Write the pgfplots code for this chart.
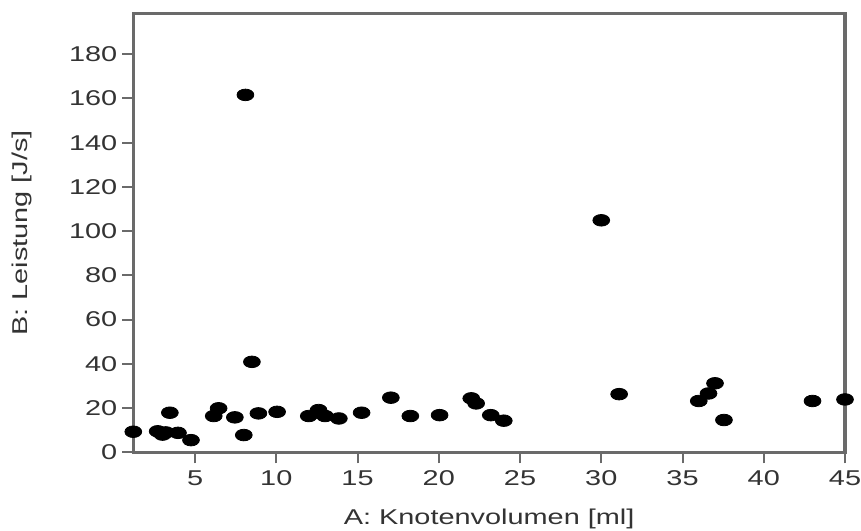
\documentclass[border=0pt]{standalone}
\usepackage{pgfplots}
\pgfplotsset{compat=1.18}
\usepackage{fontspec}
\setmainfont{Liberation Sans}[FakeStretch=1.35]
\definecolor{axgray}{HTML}{6a6a6a}
\begin{document}
\begin{tikzpicture}
\useasboundingbox (-66.65pt,-38.85pt) rectangle (363.85pt,226.15pt);
\begin{axis}[
 at={(0,0)}, anchor=south west,
 scale only axis, width=355.85pt, height=219.5pt,
 xmin=1.2, xmax=45, ymin=0, ymax=198.5,
 xtick={5,10,...,45}, ytick={0,20,...,180},
 tick align=outside, major tick length=5.5pt,
 axis line style={axgray, line width=1.6pt},
 tick style={axgray, line width=1pt},
 xtick pos=bottom, ytick pos=left,
 font=\fontsize{10.7}{12}\selectfont,
 /pgf/number format/assume math mode=true,
 xlabel={A: Knotenvolumen [ml]}, ylabel={B: Leistung [J/s]},
 xlabel style={at={(axis description cs:0.5,-0.1520)}, anchor=center},
 ylabel style={at={(axis description cs:-0.1562,0.5)}, anchor=center},
 yticklabel style={xshift=1pt},
 tick label style={text=black!80},
 label style={text=black!80},
 clip=false,
]
\addplot[only marks, mark=*, mark size=2.9pt, mark options={xscale=1.45, fill=black, draw=black}] coordinates {
(1.2,9.3) (2.7,9.5) (3.0,8.0) (3.2,9.0) (3.45,17.9) (3.95,8.8) (4.75,5.5)
(6.15,16.4) (6.45,19.9) (7.45,15.8) (8.0,7.8) (8.1,161.6) (8.5,40.9) (8.9,17.6)
(10.05,18.3) (12.0,16.4) (12.6,19.1) (13.0,16.4) (13.85,15.3) (15.25,17.9)
(17.05,24.7) (18.25,16.4) (20.05,16.8) (22.0,24.4) (22.3,22.1) (23.2,16.8)
(24.0,14.3) (30.0,104.9) (31.1,26.3) (36.0,23.2) (36.6,26.6) (37.0,31.2)
(37.55,14.6) (43.0,23.2) (45.0,23.9)
};
\end{axis}
\end{tikzpicture}
\end{document}
